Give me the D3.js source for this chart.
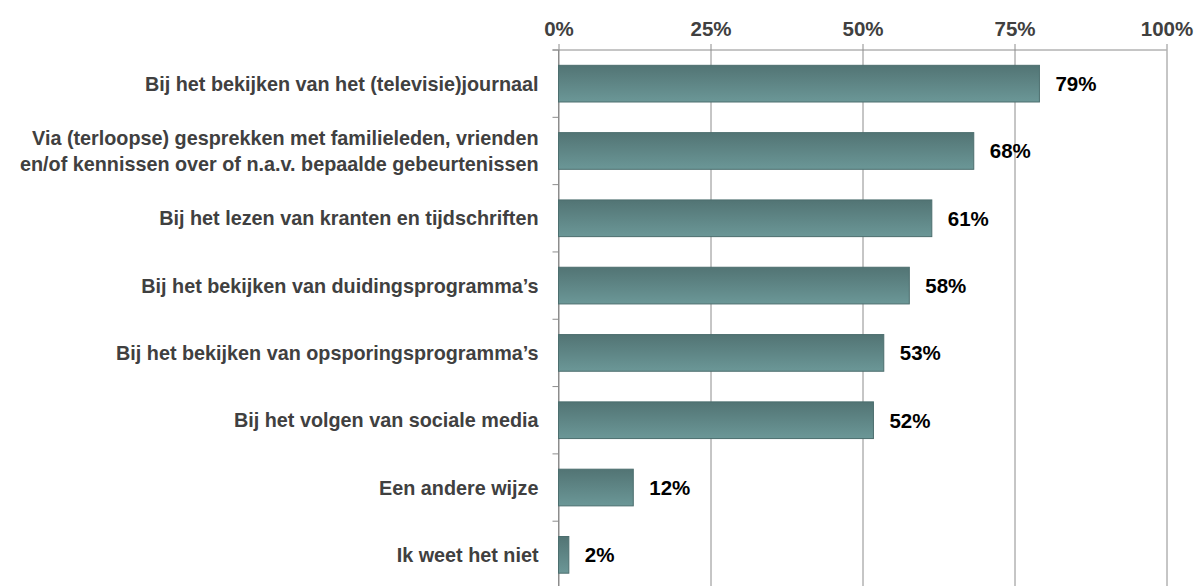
<!DOCTYPE html>
<html>
<head>
<meta charset="utf-8">
<script src="https://cdn.jsdelivr.net/npm/d3@7"></script>
<style>
  body { margin: 0; background: #fff; }
  svg { display: block; font-family: "Liberation Sans", Arial, sans-serif; }
</style>
</head>
<body>
<svg id="chart" width="1204" height="586"></svg>
<script>
// categories (each line of a label as its own entry)
var categories = [
  ["Bij het bekijken van het (televisie)journaal"],
  ["Via (terloopse) gesprekken met familieleden, vrienden", "en/of kennissen over of n.a.v. bepaalde gebeurtenissen"],
  ["Bij het lezen van kranten en tijdschriften"],
  ["Bij het bekijken van duidingsprogramma\u2019s"],
  ["Bij het bekijken van opsporingsprogramma\u2019s"],
  ["Bij het volgen van sociale media"],
  ["Een andere wijze"],
  ["Ik weet het niet"]
];
var values = [79.1, 68.3, 61.4, 57.7, 53.5, 51.8, 12.3, 1.7];
var valueLabels = ["79%", "68%", "61%", "58%", "53%", "52%", "12%", "2%"];
var ticks = [0, 25, 50, 75, 100];

var svg = d3.select("#chart");
var plotLeft = 558.5, plotRight = 1166.5, plotTop = 50, plotBottom = 588.5;

var x = d3.scaleLinear().domain([0, 100]).range([plotLeft, plotRight]);
var y = d3.scaleBand().domain(d3.range(categories.length)).range([plotTop, plotBottom])
    .paddingInner(0.455).paddingOuter(0.2275);

var defs = svg.append("defs");
var grad = defs.append("linearGradient").attr("id", "barGrad")
    .attr("x1", 0).attr("y1", 0).attr("x2", 0).attr("y2", 1);
grad.append("stop").attr("offset", "0%").attr("stop-color", "#527474");
grad.append("stop").attr("offset", "100%").attr("stop-color", "#6b9797");

// gridlines + top axis
var xAxis = d3.axisTop(x).tickValues(ticks).tickFormat(function(d) { return d + "%"; })
    .tickSizeInner(-(586 - plotTop)).tickSizeOuter(0).tickPadding(14);
var gx = svg.append("g").attr("transform", "translate(0," + plotTop + ")").call(xAxis);
gx.select(".domain").remove();
gx.selectAll(".tick line").attr("stroke", "#8c8c8c").attr("y1", -6);
gx.selectAll(".tick text")
    .attr("fill", "#404040").attr("font-size", "20.5px").attr("font-weight", "bold");
svg.append("line").attr("x1", plotLeft - 6).attr("x2", plotRight).attr("y1", plotTop).attr("y2", plotTop)
    .attr("stroke", "#8c8c8c");

// left axis with ticks at category boundaries
svg.append("line").attr("x1", plotLeft).attr("x2", plotLeft).attr("y1", plotTop).attr("y2", 586)
    .attr("stroke", "#8c8c8c");
var step = y.step();
svg.append("g").selectAll("line")
  .data(d3.range(categories.length + 1))
  .enter().append("line")
    .attr("x1", plotLeft - 6).attr("x2", plotLeft)
    .attr("y1", function(i) { return plotTop + i * step; })
    .attr("y2", function(i) { return plotTop + i * step; })
    .attr("stroke", "#8c8c8c");

// bars
svg.append("g").selectAll("rect")
  .data(values)
  .enter().append("rect")
    .attr("x", x(0))
    .attr("y", function(d, i) { return y(i); })
    .attr("width", function(d) { return x(d) - x(0); })
    .attr("height", y.bandwidth())
    .attr("fill", "url(#barGrad)")
    .attr("stroke", "#4c6e6e")
    .attr("stroke-width", 1);

// value labels
svg.append("g").selectAll("text")
  .data(values)
  .enter().append("text")
    .attr("x", function(d) { return x(d) + 16; })
    .attr("y", function(d, i) { return y(i) + y.bandwidth() / 2; })
    .attr("dy", "0.36em")
    .attr("font-size", "20.5px")
    .attr("font-weight", "bold")
    .attr("fill", "#000")
    .text(function(d, i) { return valueLabels[i]; });

// category labels
var lab = svg.append("g").selectAll("text")
  .data(categories)
  .enter().append("text")
    .attr("text-anchor", "end")
    .attr("font-size", "19.8px")
    .attr("font-weight", "bold")
    .attr("fill", "#404040");
lab.each(function(lines, i) {
  var cy = y(i) + y.bandwidth() / 2;
  var lh = 26.5;
  var t = d3.select(this);
  lines.forEach(function(line, k) {
    t.append("tspan")
      .attr("x", plotLeft - 20)
      .attr("y", cy + (k - (lines.length - 1) / 2) * lh)
      .attr("dy", "0.36em")
      .text(line);
  });
});
</script>
</body>
</html>
